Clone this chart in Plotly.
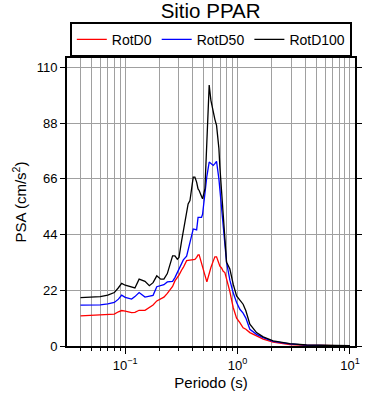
import plotly.graph_objects as go

periods = [0.04, 0.05, 0.06, 0.07, 0.08, 0.087, 0.093, 0.1, 0.114, 0.122, 0.133, 0.15, 0.164, 0.177,
           0.191, 0.207, 0.221, 0.237, 0.264, 0.277, 0.291, 0.301, 0.318, 0.329, 0.352, 0.363, 0.377,
           0.403, 0.417, 0.432, 0.445, 0.455, 0.478, 0.488, 0.512, 0.533, 0.559, 0.579, 0.607, 0.628,
           0.65, 0.682, 0.696, 0.72, 0.745, 0.771, 0.798, 0.854, 0.914, 0.98, 1.048, 1.12, 1.185,
           1.286, 1.475, 1.69, 2.07, 2.92, 4.1, 6.6, 10]

rotd0 = [11.9, 12.1, 12.3, 12.4, 12.6, 13.5, 14.0, 13.8, 13.2, 13.3, 14.1, 14.1, 15.2, 16.2,
         17.8, 18.5, 19.3, 20.8, 23.5, 25.7, 27.0, 28.0, 30.0, 31.0, 33.7, 33.8, 33.8,
         33.9, 34.2, 35.0, 36.0, 36.0, 33.0, 31.7, 28.0, 25.3, 29.0, 31.0, 33.5, 35.2,
         35.2, 32.5, 31.5, 30.8, 29.5, 29.0, 26.5, 21.5, 15.2, 11.0, 9.2, 7.2, 6.6,
         5.3, 4.0, 2.7, 1.5, 0.6, 0.3, 0.12, 0.08]

rotd50 = [16.1, 16.1, 16.2, 16.6, 17.2, 18.5, 20.1, 19.2, 18.5, 19.5, 21.1, 19.3, 19.8, 20.0,
          23.4, 23.8, 24.2, 25.3, 25.5, 27.0, 29.0, 30.5, 33.0, 34.0, 35.5, 38.0, 40.0,
          46.2, 46.0, 45.8, 50.8, 50.8, 50.8, 52.0, 61.4, 67.0, 72.6, 72.0, 71.3, 72.0,
          72.9, 66.0, 62.0, 56.0, 48.0, 41.0, 33.0, 26.0, 21.0, 17.2, 14.5, 13.0, 11.0,
          6.6, 4.6, 3.3, 1.8, 0.8, 0.35, 0.15, 0.1]

rotd100 = [19.1, 19.2, 19.5, 20.1, 21.1, 23.0, 24.7, 24.0, 23.2, 22.9, 26.4, 25.5, 23.8, 25.0,
           27.7, 26.4, 26.4, 28.6, 35.6, 35.6, 34.3, 35.0, 41.6, 45.5, 52.8, 56.1, 57.4,
           66.7, 66.7, 64.7, 62.0, 61.4, 59.0, 58.1, 62.0, 83.0, 103.0, 97.0, 92.0, 89.5,
           87.1, 78.0, 70.6, 61.4, 48.2, 40.0, 33.0, 30.4, 24.4, 19.8, 18.0, 16.5, 13.9,
           8.6, 5.3, 3.6, 2.0, 0.9, 0.4, 0.2, 0.1]

series_names = ["RotD0", "RotD50", "RotD100"]
series_colors = ["red", "blue", "black"]

x_major = [0.1, 1, 10]
x_major_text = ["10<sup>−1</sup>", "10<sup>0</sup>", "10<sup>1</sup>"]
x_minor = [m * d for d in (0.01, 0.1, 1) for m in range(2, 10)]
x_minor = [v for v in x_minor if 0.03 <= v <= 11]
y_ticks = [0, 22, 44, 66, 88, 110]

fig = go.Figure()
for name, col, vals in zip(series_names, series_colors, [rotd0, rotd50, rotd100]):
    fig.add_trace(go.Scatter(x=periods, y=vals, mode="lines", name=name,
                             line=dict(color=col, width=1.3)))

font = "Liberation Sans, Arial, sans-serif"
fig.update_layout(
    width=390, height=400,
    paper_bgcolor="white", plot_bgcolor="white",
    margin=dict(l=67, r=35, t=58, b=54, autoexpand=False),
    font=dict(family=font, size=14, color="black"),
    title=dict(text="Sitio PPAR", x=0.54, xanchor="center", y=0.9725, yanchor="middle",
               font=dict(size=20.5)),
    legend=dict(orientation="h", x=0.5, xanchor="center", y=1.0035, yanchor="bottom",
                bordercolor="black", borderwidth=1.8, font=dict(size=14),
                itemwidth=30, tracegroupgap=0),
    showlegend=True,
)
fig.update_xaxes(
    type="log", range=[-1.518, 1.045],
    tickmode="array", tickvals=x_major, ticktext=x_major_text,
    tickfont=dict(size=13),
    ticks="outside", ticklen=6, tickwidth=1, tickcolor="black",
    showgrid=True, gridcolor="#a0a0a0", gridwidth=1,
    minor=dict(tickmode="array", tickvals=x_minor, ticks="outside", ticklen=3,
               tickcolor="black", showgrid=True, gridcolor="#a0a0a0", gridwidth=1),
    showline=True, linecolor="black", linewidth=2, mirror="allticks",
    zeroline=False,
    title=dict(text="Periodo (s)", font=dict(size=15), standoff=6),
)
fig.update_yaxes(
    range=[0, 113.7],
    tickmode="array", tickvals=y_ticks,
    tickfont=dict(size=13),
    ticks="outside", ticklen=5, tickwidth=1, tickcolor="black",
    showgrid=True, gridcolor="#a0a0a0", gridwidth=1,
    showline=True, linecolor="black", linewidth=2, mirror="allticks",
    zeroline=False,
    title=dict(text="PSA (cm/s<sup>2</sup>)", font=dict(size=15), standoff=6),
)

fig.write_html("out.html", config={"displayModeBar": False},
               post_script="document.body.style.margin='0';")
